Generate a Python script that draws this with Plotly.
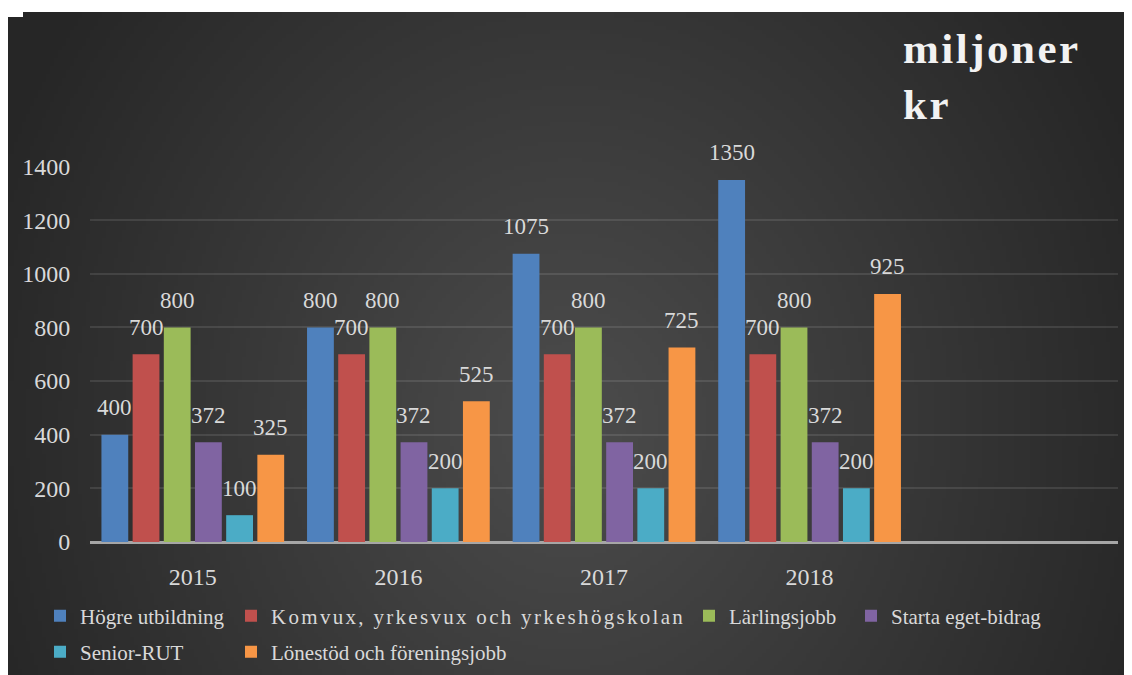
import base64
import struct
import zlib

import plotly.graph_objects as go

# ---------------- data ----------------
years = ["2015", "2016", "2017", "2018"]
series_names = [
    "Högre utbildning",
    "Komvux, yrkesvux och yrkeshögskolan",
    "Lärlingsjobb",
    "Starta eget-bidrag",
    "Senior-RUT",
    "Lönestöd och föreningsjobb",
]
hogre_utbildning = [400, 800, 1075, 1350]
komvux = [700, 700, 700, 700]
larlingsjobb = [800, 800, 800, 800]
starta_eget = [372, 372, 372, 372]
senior_rut = [100, 200, 200, 200]
lonestod = [325, 525, 725, 925]
y_ticks = [0, 200, 400, 600, 800, 1000, 1200, 1400]
unit_title = "miljoner<br>kr"

series_values = [hogre_utbildning, komvux, larlingsjobb, starta_eget, senior_rut, lonestod]
colors = ["#4f81bd", "#c0504d", "#9bbb59", "#8064a2", "#4bacc6", "#f79646"]
legend_spacing = [0, 2.3, 0, 0, 0, 0]  # letter spacing (px) of each legend entry

# ---------------- geometry (figure pixels; page has an 8px body margin) ----------------
W, H = 1124, 667
ML, MR, MT, MB = 82, 14, 158, 133
PW, PH = W - ML - MR, H - MT - MB
N_CAT = 5  # one empty slot after 2018
BARGAP, BARGROUPGAP = 0.09, 0.14
slot = PW / N_CAT * (1 - BARGAP) / len(series_names)

# ---------------- background gradient image ----------------
def make_png(w, h):
    cx, cy = 0.50, 0.62
    rx, ry = 0.55, 1.05
    rows = []
    for j in range(h):
        row = bytearray()
        v = (j + 0.5) / h
        for i in range(w):
            u = (i + 0.5) / w
            t = (((u - cx) / rx) ** 2 + ((v - cy) / ry) ** 2) ** 0.5
            t = min(t, 1.0)
            c = int(round(76 - (76 - 38) * t))
            row += bytes((c, c, c))
        rows.append(b"\x00" + bytes(row))
    raw = b"".join(rows)

    def chunk(tag, data):
        return (struct.pack(">I", len(data)) + tag + data
                + struct.pack(">I", zlib.crc32(tag + data) & 0xFFFFFFFF))

    return (b"\x89PNG\r\n\x1a\n"
            + chunk(b"IHDR", struct.pack(">IIBBBBB", w, h, 8, 2, 0, 0, 0))
            + chunk(b"IDAT", zlib.compress(raw, 9))
            + chunk(b"IEND", b""))

bg_uri = "data:image/png;base64," + base64.b64encode(make_png(281, 166)).decode()

BX0, BY0 = 0, 4  # dark panel top-left (figure pixels)

def px_to_paper_x(px):
    return (px - ML) / PW

def px_to_paper_y(py):
    return (H - MB - py) / PH

# ---------------- figure ----------------
fig = go.Figure()
legend_pos = [(32, 608), (223, 608), (681, 608), (843, 608), (32, 644), (223, 644)]

for k, (name, vals, col) in enumerate(zip(series_names, series_values, colors)):
    lname = "legend" if k == 0 else f"legend{k + 1}"
    shown = name if not legend_spacing[k] else (
        f'<span style="letter-spacing:{legend_spacing[k]}px">{name}</span>')
    fig.add_trace(go.Bar(
        x=years, y=vals, name=shown,
        marker=dict(color=col, line=dict(width=0)),
        legend=lname, hovertemplate=name + ": %{y}<extra></extra>",
    ))
    for ci, v in enumerate(vals):
        fig.add_annotation(
            x=ci, y=v, xref="x", yref="y",
            text=str(v), showarrow=False,
            xshift=(k - (len(series_names) - 1) / 2) * slot,
            yshift=27, yanchor="middle", xanchor="center",
            font=dict(family="Liberation Serif", size=23, color="#d9d9d9"),
        )

layout_legends = {}
for k, (lx, ly) in enumerate(legend_pos):
    lname = "legend" if k == 0 else f"legend{k + 1}"
    layout_legends[lname] = dict(
        x=lx / W, y=1 - ly / H, xref="container", yref="container",
        xanchor="left", yanchor="middle", orientation="v",
        bgcolor="rgba(0,0,0,0)", borderwidth=0,
        font=dict(family="Liberation Serif", size=21, color="#d9d9d9"),
    )

fig.add_annotation(
    x=px_to_paper_x(893), y=px_to_paper_y(15), xref="paper", yref="paper",
    xanchor="left", yanchor="top", align="left", showarrow=False,
    text='<span style="letter-spacing:2.5px">' + unit_title + '</span>',
    font=dict(family="Liberation Serif", size=43, color="#f2f2f2", weight="bold"),
)

fig.add_layout_image(dict(
    source=bg_uri, xref="paper", yref="paper",
    x=px_to_paper_x(BX0), y=px_to_paper_y(BY0),
    sizex=(W - BX0) / PW, sizey=(H - BY0) / PH,
    xanchor="left", yanchor="top", sizing="stretch", layer="below",
))

# small white notch at the top-left corner of the dark panel
fig.add_shape(
    type="rect", xref="paper", yref="paper",
    x0=px_to_paper_x(0), x1=px_to_paper_x(15),
    y0=px_to_paper_y(9), y1=px_to_paper_y(3.5),
    fillcolor="white", line=dict(width=0), layer="above",
)

fig.update_layout(
    width=W, height=H,
    margin=dict(l=ML, r=MR, t=MT, b=MB, pad=0, autoexpand=False),
    paper_bgcolor="white", plot_bgcolor="rgba(0,0,0,0)",
    barmode="group", bargap=BARGAP, bargroupgap=BARGROUPGAP,
    showlegend=True,
    font=dict(family="Liberation Serif", color="#d9d9d9"),
    xaxis=dict(
        type="category", range=[-0.5, N_CAT - 0.5], automargin=False,
        showgrid=False, zeroline=False, showline=False,
        ticks="outside", ticklen=13, tickcolor="rgba(0,0,0,0)",
        tickfont=dict(family="Liberation Serif", size=24, color="#d9d9d9"),
    ),
    yaxis=dict(
        range=[0, 1402], tickvals=y_ticks, ticktext=[str(t) for t in y_ticks],
        automargin=False,
        showgrid=True, gridcolor="rgba(255,255,255,0.10)", gridwidth=2,
        zeroline=True, zerolinecolor="#a6a6a6", zerolinewidth=3,
        showline=False,
        ticks="outside", ticklen=14, tickcolor="rgba(0,0,0,0)",
        tickfont=dict(family="Liberation Serif", size=24, color="#d9d9d9"),
    ),
    **layout_legends,
)

fig.write_html("out.html")
